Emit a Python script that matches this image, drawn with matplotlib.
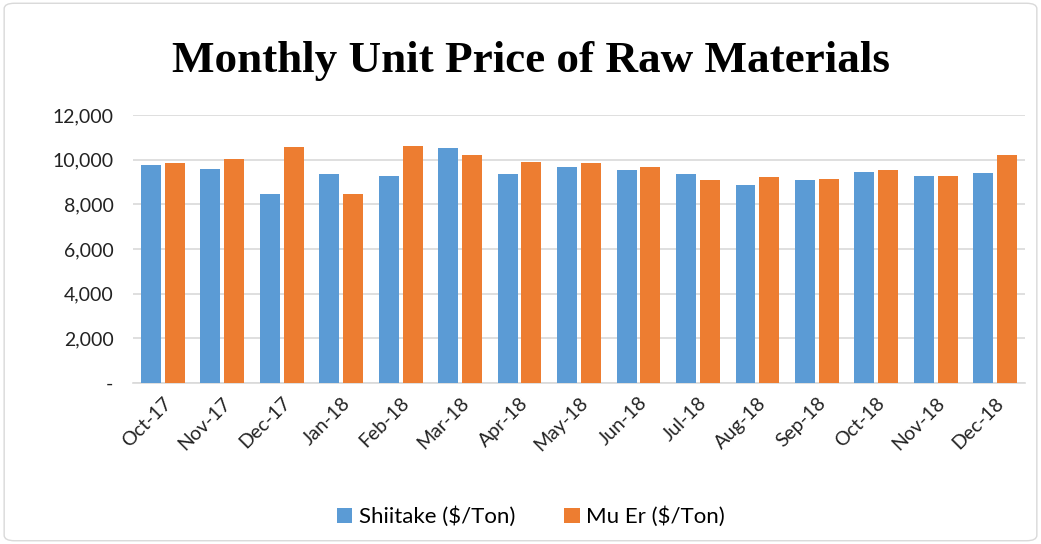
import numpy as np
import matplotlib.pyplot as plt
from matplotlib.patches import FancyBboxPatch

# monthly prices
months = ["Oct-17", "Nov-17", "Dec-17", "Jan-18", "Feb-18", "Mar-18", "Apr-18", "May-18",
          "Jun-18", "Jul-18", "Aug-18", "Sep-18", "Oct-18", "Nov-18", "Dec-18"]
shiitake = [9780, 9600, 8480, 9360, 9290, 10520, 9360, 9680,
            9540, 9380, 8850, 9090, 9440, 9290, 9420]
mu_er = [9870, 10020, 10580, 8480, 10620, 10220, 9900, 9830,
         9660, 9110, 9240, 9150, 9530, 9290, 10220]
yticks = [0, 2000, 4000, 6000, 8000, 10000, 12000]
ytick_labels = ["-", "2,000", "4,000", "6,000", "8,000", "10,000", "12,000"]

fig = plt.figure(figsize=(10.41, 5.44), dpi=100)
ax = fig.add_axes([0.1278, 0.2960, 0.8568, 0.4926])

x = np.arange(len(months))
w = 0.336
ax.bar(x - 0.2, shiitake, w, color="#5B9BD5", label="Shiitake ($/Ton)", zorder=3)
ax.bar(x + 0.2, mu_er, w, color="#ED7D31", label="Mu Er ($/Ton)", zorder=3)

ax.set_xlim(-0.5, len(months) - 0.5)
ax.set_ylim(0, 12000)
ax.set_yticks(yticks)
ax.set_yticklabels(ytick_labels, fontsize=14, family="Lato", color="#222222")
ax.set_xticks(x)
ax.set_xticklabels(months, rotation=45, ha="right", rotation_mode="anchor",
                   fontsize=14, family="Lato", color="#222222")
ax.tick_params(axis="y", length=0, pad=14)
ax.tick_params(axis="x", length=0, pad=8)
ax.grid(axis="y", color="#d9d9d9", linewidth=1.2, zorder=0)
for s in ["top", "right", "left"]:
    ax.spines[s].set_visible(False)
ax.spines["bottom"].set_color("#d9d9d9")
ax.spines["bottom"].set_linewidth(1.2)

fig.text(0.51, 0.888, "Monthly Unit Price of Raw Materials", ha="center", va="center",
         fontsize=32.5, fontweight="bold", family="Liberation Serif")

fig.legend(loc="center", bbox_to_anchor=(0.51, 0.05), ncol=2, frameon=False,
           prop={"family": "Lato", "size": 16}, handlelength=0.7, handleheight=0.7,
           columnspacing=2.2, handletextpad=0.3)

fig.patches.append(FancyBboxPatch((0.004, 0.006), 0.992, 0.988, boxstyle="round,pad=0,rounding_size=0.01",
                                  transform=fig.transFigure, fill=False, edgecolor="#d9d9d9", linewidth=1))

fig.savefig("out.png", dpi=100)
